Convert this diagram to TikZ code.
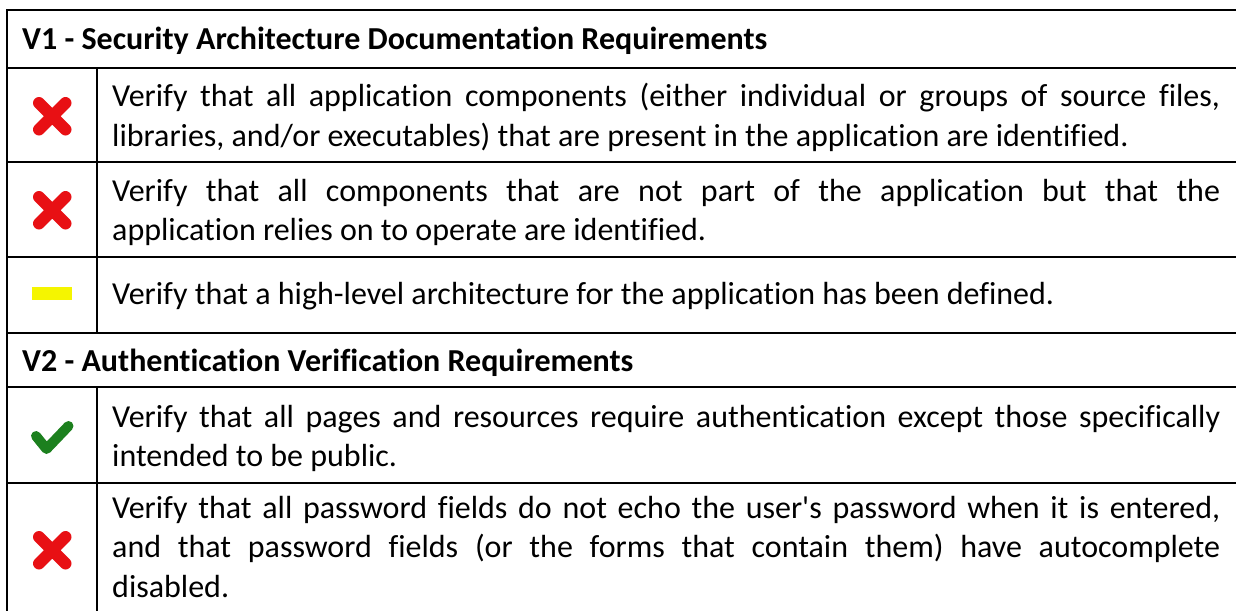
\documentclass[tikz,border=0pt]{standalone}
\usepackage{fontspec}
\setmainfont{Carlito}[Ligatures={TeXOff,CommonOff}]
\definecolor{xred}{RGB}{232,16,20}
\definecolor{okgreen}{RGB}{28,128,30}
\definecolor{warnyellow}{RGB}{245,245,0}
\newcommand{\jline}[1]{\makebox[1108pt][s]{#1}}
\begin{document}
\begin{tikzpicture}[x=1pt,y=-1pt,
  grid/.style={line width=2pt, black},
  txt/.style={anchor=base west, inner sep=0pt, font=\fontsize{32}{39.5}\selectfont},
  hdr/.style={anchor=base west, inner sep=0pt, font=\fontsize{32}{39.5}\selectfont\bfseries},
  xmark/.style={line width=12pt, line cap=round, draw=xred},
  vmark/.style={line width=10pt, line cap=round, line join=round, draw=okgreen},
  dmark/.style={fill=warnyellow, draw=none}]
\useasboundingbox (0,0) rectangle (1236,610);
\clip (0,0) rectangle (1236,610);
% table grid
\draw[grid] (7,640) -- (7,10) -- (1260,10);
\foreach \yy in {68,162,257,333,387,483}
  \draw[grid] (7,\yy) -- (1260,\yy);
\draw[grid] (97,68) -- (97,333);
\draw[grid] (97,387) -- (97,640);
% headers
\node[hdr] (h1) at (22,50) {V1 - Security Architecture Documentation Requirements};
\node[hdr] (h2) at (22,371) {V2 - Authentication Verification Requirements};
% rows
\node[txt] (r1a) at (112,106) {\jline{Verify that all application components (either individual or groups of source files,}};
\node[txt] (r1b) at (112,146) {libraries, and/or executables) that are present in the application are identified.};
\node[txt] (r2a) at (112,201) {\jline{Verify that all components that are not part of the application but that the}};
\node[txt] (r2b) at (112,240) {application relies on to operate are identified.};
\node[txt] (r3a) at (112,304) {Verify that a high-level architecture for the application has been defined.};
\node[txt] (r4a) at (112,427) {\jline{Verify that all pages and resources require authentication except those specifically}};
\node[txt] (r4b) at (112,466) {intended to be public.};
\node[txt] (r5a) at (112,518) {\jline{Verify that all password fields do not echo the user\textquotesingle s password when it is entered,}};
\node[txt] (r5b) at (112,557.5) {\jline{and that password fields (or the forms that contain them) have autocomplete}};
\node[txt] (r5c) at (112,597) {disabled.};
% status icons
\draw[xmark] (39,103) -- (65.5,129.5) (39,129.5) -- (65.5,103);
\draw[xmark] (39,197) -- (65.5,223.5) (39,223.5) -- (65.5,197);
\draw[dmark] (32,287) rectangle (72,300);
\draw[vmark] (36,436) -- (46.5,449) -- (68.5,426);
\draw[xmark] (39,537) -- (65.5,563.5) (39,563.5) -- (65.5,537);
\end{tikzpicture}
\end{document}
